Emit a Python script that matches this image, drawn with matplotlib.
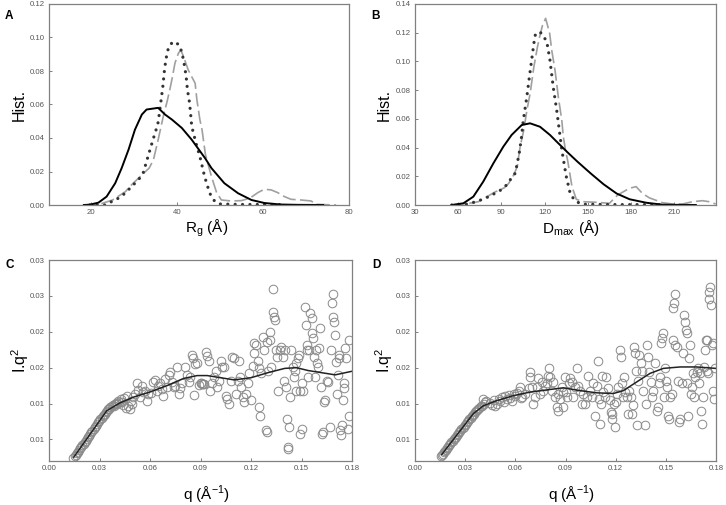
import matplotlib
matplotlib.use("Agg")
import matplotlib.pyplot as plt
from matplotlib.ticker import FixedLocator, FixedFormatter

plt.rcParams['font.family'] = ['Liberation Sans', 'DejaVu Sans']

# ---------------- Panel A data (Rg histograms) ----------------
a_solid_x = [18.3, 19.7, 21.7, 23.6, 25.6, 27.1, 28.7, 30.2, 31.8, 32.9, 35.6, 37.2, 38.8, 41.1, 43.4, 46.5, 48, 51, 54.2, 57.3, 60.3, 64, 68, 74]
a_solid_y = [0, 0.0002, 0.0014, 0.005, 0.013, 0.022, 0.033, 0.045, 0.054, 0.057, 0.058, 0.054, 0.051, 0.046, 0.039, 0.028, 0.022, 0.013, 0.007, 0.003, 0.0012, 0.0003, 0.0001, 0]
a_dot_x = [19.7, 23.2, 26.3, 27.9, 29.4, 31, 32.1, 32.9, 33.7, 34.4, 35, 35.5, 35.9, 36.3, 36.7, 37, 37.4, 38, 39.0, 40.3, 41.1, 41.6, 42.1, 42.4, 42.9, 43.2, 43.4, 44.0, 44.6, 45.3, 46.4, 47.6, 48.8, 50, 55, 60, 64.6]
a_dot_y = [0, 0, 0.004, 0.007, 0.011, 0.015, 0.019, 0.026, 0.033, 0.039, 0.044, 0.048, 0.055, 0.063, 0.071, 0.079, 0.087, 0.094, 0.0975, 0.096, 0.0915, 0.085, 0.077, 0.069, 0.061, 0.053, 0.047, 0.041, 0.035, 0.029, 0.017, 0.007, 0.002, 0.0006, 0.0003, 0.0003, 0.0002]
a_dash_x = [18.3, 22, 25, 28, 29, 31.8, 33.5, 34.5, 35.6, 36.8, 37.7, 38.4, 38.8, 39.5, 40.3, 40.9, 41.5, 42.6, 43.4, 44.2, 44.6, 45.3, 45.8, 46.6, 48, 49.2, 50.3, 52.6, 54.9, 56.9, 58.8, 60.3, 61.9, 63.4, 65, 66.5, 68.8, 71.2, 72.3, 77]
a_dash_y = [0, 0.0005, 0.003, 0.008, 0.011, 0.018, 0.022, 0.027, 0.039, 0.053, 0.062, 0.070, 0.075, 0.0846, 0.0906, 0.0925, 0.0885, 0.0806, 0.0766, 0.0727, 0.063, 0.051, 0.045, 0.030, 0.017, 0.0074, 0.003, 0.0024, 0.0026, 0.004, 0.0074, 0.0094, 0.009, 0.0074, 0.005, 0.0034, 0.003, 0.0024, 0.0004, 0]

# ---------------- Panel B data (Dmax histograms) ----------------
b_solid_x = [55.5, 63.6, 70.5, 77.4, 84.4, 91.3, 97.1, 104.1, 109.9, 116.8, 123.7, 129.5, 136, 143, 152, 161, 170, 179, 190.4, 201.9, 225]
b_solid_y = [0, 0.0012, 0.0058, 0.0163, 0.029, 0.0406, 0.0488, 0.0557, 0.0569, 0.0545, 0.0488, 0.043, 0.0366, 0.030, 0.022, 0.0144, 0.008, 0.004, 0.0016, 0.0002, 0]
b_dot_x = [55.5, 63, 68, 74, 78.7, 83.3, 88, 92.6, 96, 99.5, 101, 102.5, 103.8, 105.2, 107.6, 109.4, 111, 112.2, 113.3, 115.6, 118, 121.5, 123.7, 126, 128.4, 130.2, 132, 135, 138, 142, 146.5, 170, 199.6]
b_dot_y = [0, 0, 0.001, 0.0029, 0.0046, 0.007, 0.0093, 0.0128, 0.0174, 0.022, 0.029, 0.037, 0.046, 0.059, 0.075, 0.089, 0.101, 0.110, 0.118, 0.1207, 0.1196, 0.1137, 0.101, 0.082, 0.066, 0.052, 0.038, 0.020, 0.007, 0.0023, 0.0005, 0.0003, 0.0002]
b_dash_x = [55.5, 70, 74, 80, 86, 89, 92, 95, 98.5, 101, 103, 105.5, 107.7, 110, 112.5, 115, 116.5, 118.5, 120.7, 123.5, 124.9, 127.2, 129.5, 131.9, 133, 134.5, 136, 139, 142, 146.5, 155.8, 165, 170.8, 178.8, 183.5, 188, 192.7, 201.9, 208.8, 215.8, 222.7, 229.6, 234.2, 238.8]
b_dash_y = [0, 0.0015, 0.0023, 0.0058, 0.0093, 0.0105, 0.012, 0.015, 0.0209, 0.0267, 0.0406, 0.052, 0.066, 0.078, 0.096, 0.110, 0.117, 0.125, 0.130, 0.1196, 0.108, 0.094, 0.0754, 0.0592, 0.0476, 0.038, 0.031, 0.0128, 0.004, 0.0023, 0.0019, 0.0012, 0.007, 0.0116, 0.0128, 0.008, 0.005, 0.0016, 0.0007, 0.0007, 0.0023, 0.003, 0.0023, 0.0007]

# ---------------- Panel C data (Kratky plot) ----------------
c_q = [0.0145, 0.0152, 0.0158, 0.0165, 0.0172, 0.0178, 0.0185, 0.0192, 0.0198, 0.0205, 0.0212, 0.0218, 0.0225, 0.0232,
       0.0238, 0.0245, 0.0252, 0.0258, 0.0265, 0.0272, 0.0278, 0.0285, 0.0292, 0.0298, 0.0305, 0.0312, 0.0318, 0.0325,
       0.0332, 0.0338, 0.0345, 0.0352, 0.0358, 0.0365, 0.0372, 0.0378, 0.0385, 0.0392, 0.0398, 0.0405, 0.0412, 0.0418,
       0.0425, 0.0433, 0.044, 0.0447, 0.0455, 0.0463, 0.047, 0.048, 0.0488, 0.0495, 0.050, 0.051, 0.052, 0.053, 0.054,
       0.055, 0.056, 0.057, 0.058, 0.059, 0.0606, 0.062, 0.063, 0.064, 0.065, 0.066, 0.067, 0.068, 0.069, 0.070, 0.071,
       0.072, 0.073, 0.074, 0.075, 0.076, 0.077, 0.078, 0.079, 0.081, 0.082, 0.083, 0.084, 0.085, 0.0855, 0.086, 0.087,
       0.088, 0.089, 0.090, 0.0905, 0.091, 0.0915, 0.092, 0.093, 0.094, 0.095, 0.0955, 0.097, 0.098, 0.099, 0.100, 0.101,
       0.102, 0.103, 0.104, 0.105, 0.106, 0.107, 0.108, 0.109, 0.110, 0.111, 0.112, 0.113, 0.1135, 0.114, 0.115, 0.116,
       0.117, 0.118, 0.119, 0.120, 0.121, 0.1215, 0.122, 0.123, 0.124, 0.1245, 0.125, 0.1255, 0.126, 0.127, 0.128, 0.1288,
       0.1293, 0.1298, 0.1302, 0.131, 0.1315, 0.132, 0.1328, 0.1332, 0.1337, 0.1342, 0.1348, 0.1352, 0.136, 0.137, 0.138,
       0.139, 0.1398, 0.1403, 0.141, 0.1415, 0.1418, 0.1422, 0.1428, 0.1433, 0.144, 0.145, 0.1455, 0.146, 0.1465, 0.147,
       0.1478, 0.1483, 0.149, 0.1494, 0.150, 0.1505, 0.151, 0.152, 0.1525, 0.153, 0.1535, 0.154, 0.1545, 0.155, 0.156,
       0.1565, 0.157, 0.1575, 0.158, 0.1585, 0.159, 0.160, 0.1605, 0.161, 0.1615, 0.162, 0.163, 0.1635, 0.164, 0.165,
       0.166, 0.167, 0.1675, 0.168, 0.1685, 0.169, 0.1695, 0.170, 0.1705, 0.171, 0.1715, 0.172, 0.1725, 0.173, 0.1735,
       0.174, 0.1745, 0.175, 0.1755, 0.176, 0.1765, 0.1775, 0.178, 0.1785]
c_val = [0.0024, 0.0027, 0.0028, 0.0031, 0.0033, 0.0035, 0.0038, 0.0040, 0.0042, 0.0044, 0.0047, 0.0048, 0.0051, 0.0053,
         0.0055, 0.0058, 0.0060, 0.0062, 0.0065, 0.0067, 0.0069, 0.0071, 0.0074, 0.0076, 0.0078, 0.0080, 0.0082, 0.0084,
         0.0086, 0.0088, 0.0090, 0.0092, 0.0093, 0.0095, 0.0096, 0.0098, 0.0097, 0.0099, 0.0101, 0.0100, 0.0103, 0.0102,
         0.0106, 0.0102, 0.0098, 0.0108, 0.0094, 0.0110, 0.0097, 0.0093, 0.0104, 0.0100, 0.0109, 0.0114, 0.0128, 0.0119,
         0.0109, 0.0124, 0.0116, 0.0117, 0.0103, 0.0114, 0.0115, 0.0130, 0.0133, 0.0118, 0.0124, 0.0128, 0.0120, 0.0110,
         0.0134, 0.0123, 0.0140, 0.0144, 0.0130, 0.0123, 0.0125, 0.0151, 0.0114, 0.0122, 0.0128, 0.0151, 0.0140, 0.0130,
         0.0137, 0.0168, 0.0164, 0.0112, 0.0155, 0.0156, 0.0126, 0.0128, 0.0128, 0.0127, 0.0127, 0.0127, 0.0172, 0.0166,
         0.0160, 0.0118, 0.0128, 0.0137, 0.0146, 0.0123, 0.0132, 0.0160, 0.0151, 0.0151, 0.0111, 0.0107, 0.0100, 0.0132,
         0.0165, 0.0163, 0.0114, 0.0132, 0.0160, 0.0137, 0.0123, 0.0109, 0.0102, 0.0114, 0.0128, 0.0142, 0.0105, 0.0153,
         0.0170, 0.0184, 0.0181, 0.0160, 0.0149, 0.0095, 0.0083, 0.0142, 0.0193, 0.0174, 0.0063, 0.0060, 0.0186, 0.0146,
         0.0200, 0.0188, 0.0151, 0.0228, 0.0260, 0.0221, 0.0216, 0.0174, 0.0165, 0.0118, 0.0174, 0.0179, 0.0165, 0.0132,
         0.0174, 0.0123, 0.0079, 0.0039, 0.0037, 0.0067, 0.0109, 0.0174, 0.0151, 0.0137, 0.0146, 0.0118, 0.0156, 0.0163,
         0.0167, 0.0118, 0.0058, 0.0065, 0.0128, 0.0118, 0.0235, 0.0209, 0.0181, 0.0174, 0.0137, 0.0174, 0.0226, 0.0219,
         0.0198, 0.0191, 0.0165, 0.0137, 0.0174, 0.0156, 0.0151, 0.0177, 0.0205, 0.0123, 0.0058, 0.0060, 0.0102, 0.0105,
         0.0132, 0.0130, 0.0067, 0.0174, 0.0240, 0.0253, 0.0221, 0.0214, 0.0195, 0.0158, 0.0114, 0.0140, 0.0167, 0.0163,
         0.0063, 0.0056, 0.0070, 0.0105, 0.0128, 0.0121, 0.0177, 0.0163, 0.0065, 0.0083, 0.0188]
c_fit_q = [0.0147, 0.0343, 0.0422, 0.0502, 0.0598, 0.0701, 0.080, 0.088, 0.094, 0.102, 0.110, 0.120, 0.130, 0.140, 0.147, 0.154, 0.162, 0.170, 0.180]
c_fit_v = [0.00253, 0.0090, 0.0101, 0.0109, 0.0116, 0.0125, 0.0135, 0.0139, 0.0139, 0.0136, 0.0133, 0.0136, 0.0143, 0.0149, 0.0150, 0.0146, 0.0143, 0.0140, 0.0145]

# ---------------- Panel D data (Kratky plot) ----------------
d_q = [0.0155, 0.0160, 0.0165, 0.0172, 0.0178, 0.0185, 0.0192, 0.0198, 0.0205, 0.0212, 0.0218, 0.0225, 0.0232, 0.0238,
       0.0245, 0.0252, 0.0258, 0.0265, 0.0272, 0.0278, 0.0285, 0.0292, 0.0298, 0.0305, 0.0312, 0.0318, 0.0325, 0.0332,
       0.0338, 0.0345, 0.0352, 0.0358, 0.0365, 0.0372, 0.0378, 0.0385, 0.0392, 0.0398, 0.0405, 0.0412, 0.0418, 0.0425,
       0.045, 0.046, 0.047, 0.048, 0.049, 0.050, 0.051, 0.052, 0.053, 0.054, 0.055, 0.056, 0.057, 0.058, 0.059, 0.060,
       0.061, 0.062, 0.063, 0.0635, 0.064, 0.066, 0.068, 0.0687, 0.069, 0.0697, 0.0707, 0.0717, 0.0727, 0.0737, 0.0747,
       0.0757, 0.0767, 0.0777, 0.0787, 0.0797, 0.080, 0.0807, 0.0817, 0.0827, 0.0837, 0.0847, 0.0853, 0.0857, 0.0867,
       0.0877, 0.0883, 0.0887, 0.0897, 0.0902, 0.091, 0.092, 0.0926, 0.0936, 0.0946, 0.0956, 0.0966, 0.0976, 0.0986,
       0.0996, 0.1006, 0.1016, 0.1026, 0.1036, 0.1046, 0.1056, 0.1066, 0.1076, 0.1086, 0.1092, 0.1098, 0.1106, 0.1112,
       0.1117, 0.1126, 0.1135, 0.1145, 0.1155, 0.1165, 0.1171, 0.1177, 0.1181, 0.1189, 0.1195, 0.1201, 0.1209, 0.1215,
       0.1225, 0.1231, 0.1235, 0.1241, 0.1249, 0.1255, 0.1265, 0.1275, 0.1281, 0.1289, 0.1295, 0.1301, 0.1309, 0.1315,
       0.1321, 0.1329, 0.1335, 0.1341, 0.1349, 0.1357, 0.1365, 0.1375, 0.1381, 0.1389, 0.1395, 0.1401, 0.1409, 0.1415,
       0.1425, 0.1435, 0.1445, 0.1453, 0.1461, 0.1465, 0.1471, 0.1477, 0.1481, 0.1489, 0.1495, 0.1501, 0.1505, 0.1511,
       0.1517, 0.1525, 0.1535, 0.1541, 0.1545, 0.1549, 0.1553, 0.1557, 0.1565, 0.1575, 0.1581, 0.1585, 0.1595, 0.1601,
       0.1609, 0.1615, 0.1621, 0.1625, 0.1629, 0.1635, 0.1641, 0.1645, 0.1651, 0.1657, 0.1665, 0.1671, 0.1677, 0.1685,
       0.1691, 0.1697, 0.1705, 0.1711, 0.1717, 0.1721, 0.1729, 0.1735, 0.1741, 0.1745, 0.1749, 0.1753, 0.1757, 0.1761,
       0.1765, 0.1769, 0.1775, 0.1781, 0.1785, 0.1791, 0.1795]
d_val = [0.0027, 0.0028, 0.0030, 0.0032, 0.0034, 0.0036, 0.0038, 0.0040, 0.0042, 0.0044, 0.0046, 0.0048, 0.0050, 0.0052,
         0.0054, 0.0056, 0.0058, 0.0060, 0.0062, 0.0064, 0.0066, 0.0068, 0.0070, 0.0072, 0.0074, 0.0076, 0.0078, 0.0080,
         0.0082, 0.0084, 0.0086, 0.0088, 0.0090, 0.0091, 0.0093, 0.0094, 0.0096, 0.0097, 0.0106, 0.0100, 0.0102, 0.0104,
         0.0101, 0.0098, 0.0105, 0.0096, 0.0100, 0.0107, 0.0103, 0.0109, 0.0102, 0.0110, 0.0106, 0.0112, 0.0108, 0.0104,
         0.0113, 0.0110, 0.0115, 0.0118, 0.0123, 0.0108, 0.0109, 0.0114, 0.0121, 0.0144, 0.0137, 0.0123, 0.0100, 0.0109,
         0.0123, 0.0135, 0.0114, 0.0130, 0.0118, 0.0125, 0.0128, 0.0139, 0.0149, 0.0137, 0.0118, 0.0130, 0.0109, 0.0095,
         0.0090, 0.0114, 0.0107, 0.0123, 0.0116, 0.0095, 0.0137, 0.0116, 0.0109, 0.0128, 0.0135, 0.0130, 0.0109, 0.0123,
         0.0149, 0.0125, 0.0118, 0.0100, 0.0114, 0.0100, 0.0109, 0.0139, 0.0118, 0.0109, 0.0128, 0.0083, 0.0125, 0.0160,
         0.0107, 0.0072, 0.0100, 0.0139, 0.0116, 0.0109, 0.0137, 0.0121, 0.0105, 0.0088, 0.0086, 0.0079, 0.0100, 0.0067,
         0.0102, 0.0114, 0.0123, 0.0174, 0.0165, 0.0128, 0.0109, 0.0137, 0.0116, 0.0109, 0.0086, 0.0118, 0.0109, 0.0086,
         0.0098, 0.0179, 0.0170, 0.0146, 0.0070, 0.0132, 0.0167, 0.0156, 0.0146, 0.0118, 0.0070, 0.0100, 0.0181, 0.0165,
         0.0144, 0.0130, 0.0109, 0.0118, 0.0156, 0.0090, 0.0095, 0.0128, 0.0137, 0.0184, 0.0191, 0.0198, 0.0109, 0.0149,
         0.0132, 0.0123, 0.0083, 0.0079, 0.0109, 0.0114, 0.0188, 0.0233, 0.0240, 0.0253, 0.0181, 0.0179, 0.0132, 0.0074,
         0.0079, 0.0128, 0.0170, 0.0223, 0.0214, 0.0202, 0.0198, 0.0128, 0.0083, 0.0163, 0.0181, 0.0114, 0.0123, 0.0142,
         0.0109, 0.0137, 0.0144, 0.0149, 0.0128, 0.0142, 0.0090, 0.0072, 0.0109, 0.0151, 0.0174, 0.0189, 0.0188, 0.0146,
         0.0142, 0.0246, 0.0256, 0.0263, 0.0237, 0.0181, 0.0184, 0.0118, 0.0107, 0.0149]
d_fit_q = [0.016, 0.0349, 0.0409, 0.0488, 0.0588, 0.0688, 0.0787, 0.0887, 0.0987, 0.1086, 0.1186, 0.1246, 0.1325, 0.1405, 0.1485, 0.1585, 0.1684, 0.18]
d_fit_v = [0.0029, 0.0086, 0.0097, 0.0104, 0.0111, 0.0116, 0.0119, 0.0122, 0.0118, 0.0115, 0.0114, 0.0118, 0.0130, 0.0142, 0.0149, 0.0151, 0.0151, 0.0149]

# tick definitions
a_xticks = [20, 40, 60, 80]
a_yticks = [0.00, 0.02, 0.04, 0.06, 0.08, 0.10, 0.12]
b_xticks = [30, 60, 90, 120, 150, 180, 210]
b_yticks = [0.00, 0.02, 0.04, 0.06, 0.08, 0.10, 0.12, 0.14]
cd_xticks = [0.00, 0.03, 0.06, 0.09, 0.12, 0.15, 0.18]
cd_yticks = [0.005, 0.010, 0.015, 0.020, 0.025, 0.030]
cd_ylabels = ['0.01', '0.01', '0.02', '0.02', '0.03', '0.03']

W, H = 726, 505
fig = plt.figure(figsize=(W / 100, H / 100), dpi=100)

def px_axes(l, t, r, b):
    return fig.add_axes([l / W, 1 - b / H, (r - l) / W, (b - t) / H])

axA = px_axes(49, 4, 349, 205)
axB = px_axes(415, 4, 716, 205)
axC = px_axes(49, 260, 352, 461)
axD = px_axes(415, 260, 716, 461)

spine_col = '#808080'
tick_col = '#555555'

def style(ax):
    for s in ax.spines.values():
        s.set_color(spine_col)
        s.set_linewidth(0.9)
    ax.tick_params(direction='in', length=2.5, width=0.7, color=spine_col,
                   labelsize=5.6, labelcolor=tick_col, pad=3)

dot_style = dict(color='#333333', lw=2.3, linestyle=(0, (0.01, 2.3)), dash_capstyle='round', solid_capstyle='round')
dash_style = dict(color='#a0a0a0', lw=1.2, linestyle=(0, (8, 2.6)))
solid_style = dict(color='black', lw=1.4)

# Panel A
axA.plot(a_dash_x, a_dash_y, **dash_style)
axA.plot(a_dot_x, a_dot_y, **dot_style)
axA.plot(a_solid_x, a_solid_y, **solid_style)
axA.set_xlim(10.2, 80)
axA.set_ylim(0, 0.12)
axA.xaxis.set_major_locator(FixedLocator(a_xticks))
axA.yaxis.set_major_locator(FixedLocator(a_yticks))
axA.yaxis.set_major_formatter(FixedFormatter(['%.2f' % v for v in a_yticks]))
style(axA)
axA.set_ylabel('Hist.', fontsize=11.5, va='center')
axA.yaxis.set_label_coords((19.5 - 49) / 300, 0.5)
axA.set_xlabel('R$_\\mathregular{g}$ (Å)', fontsize=11, va='top')
axA.xaxis.set_label_coords(0.525, (205 - 217.5) / 201)

# Panel B
axB.plot(b_dash_x, b_dash_y, **dash_style)
axB.plot(b_dot_x, b_dot_y, **dot_style)
axB.plot(b_solid_x, b_solid_y, **solid_style)
axB.set_xlim(30, 239)
axB.set_ylim(0, 0.14)
axB.xaxis.set_major_locator(FixedLocator(b_xticks))
axB.yaxis.set_major_locator(FixedLocator(b_yticks))
axB.yaxis.set_major_formatter(FixedFormatter(['%.2f' % v for v in b_yticks]))
style(axB)
axB.set_ylabel('Hist.', fontsize=11.5, va='center')
axB.yaxis.set_label_coords((384 - 415) / 301, 0.5)
axB.set_xlabel('D$_\\mathregular{max}$ (Å)', fontsize=11, va='top')
axB.xaxis.set_label_coords(0.518, (205 - 217.5) / 201)

# Panels C and D
for ax, q, v, fq, fv, lx in [(axC, c_q, c_val, c_fit_q, c_fit_v, (20 - 49) / 303),
                              (axD, d_q, d_val, d_fit_q, d_fit_v, (384 - 415) / 301)]:
    ax.plot(q, v, linestyle='none', marker='o', markersize=6.2, markerfacecolor='none',
            markeredgecolor='#8a8a8a', markeredgewidth=0.7)
    ax.plot(fq, fv, color='#222222', lw=1.1)
    ax.set_xlim(0, 0.18)
    ax.set_ylim(0.002, 0.030)
    ax.xaxis.set_major_locator(FixedLocator(cd_xticks))
    ax.xaxis.set_major_formatter(FixedFormatter(['%.2f' % t for t in cd_xticks]))
    ax.yaxis.set_major_locator(FixedLocator(cd_yticks))
    ax.yaxis.set_major_formatter(FixedFormatter(cd_ylabels))
    style(ax)
    ax.set_ylabel('I.q$^\\mathregular{2}$', fontsize=11.5, va='center')
    ax.yaxis.set_label_coords(lx, 0.5)
    ax.set_xlabel('q (Å$^\\mathregular{-1}$)', fontsize=11, va='center')
    ax.xaxis.set_label_coords(0.52, (461 - 495) / 201)

# Panel letters
for letter, x, y in [('A', 9, 16), ('B', 376, 16), ('C', 10, 265), ('D', 376, 265)]:
    fig.text(x / W, 1 - y / H, letter, fontsize=8.5, fontweight='bold', ha='center', va='center')

fig.savefig('out.png', dpi=100)
